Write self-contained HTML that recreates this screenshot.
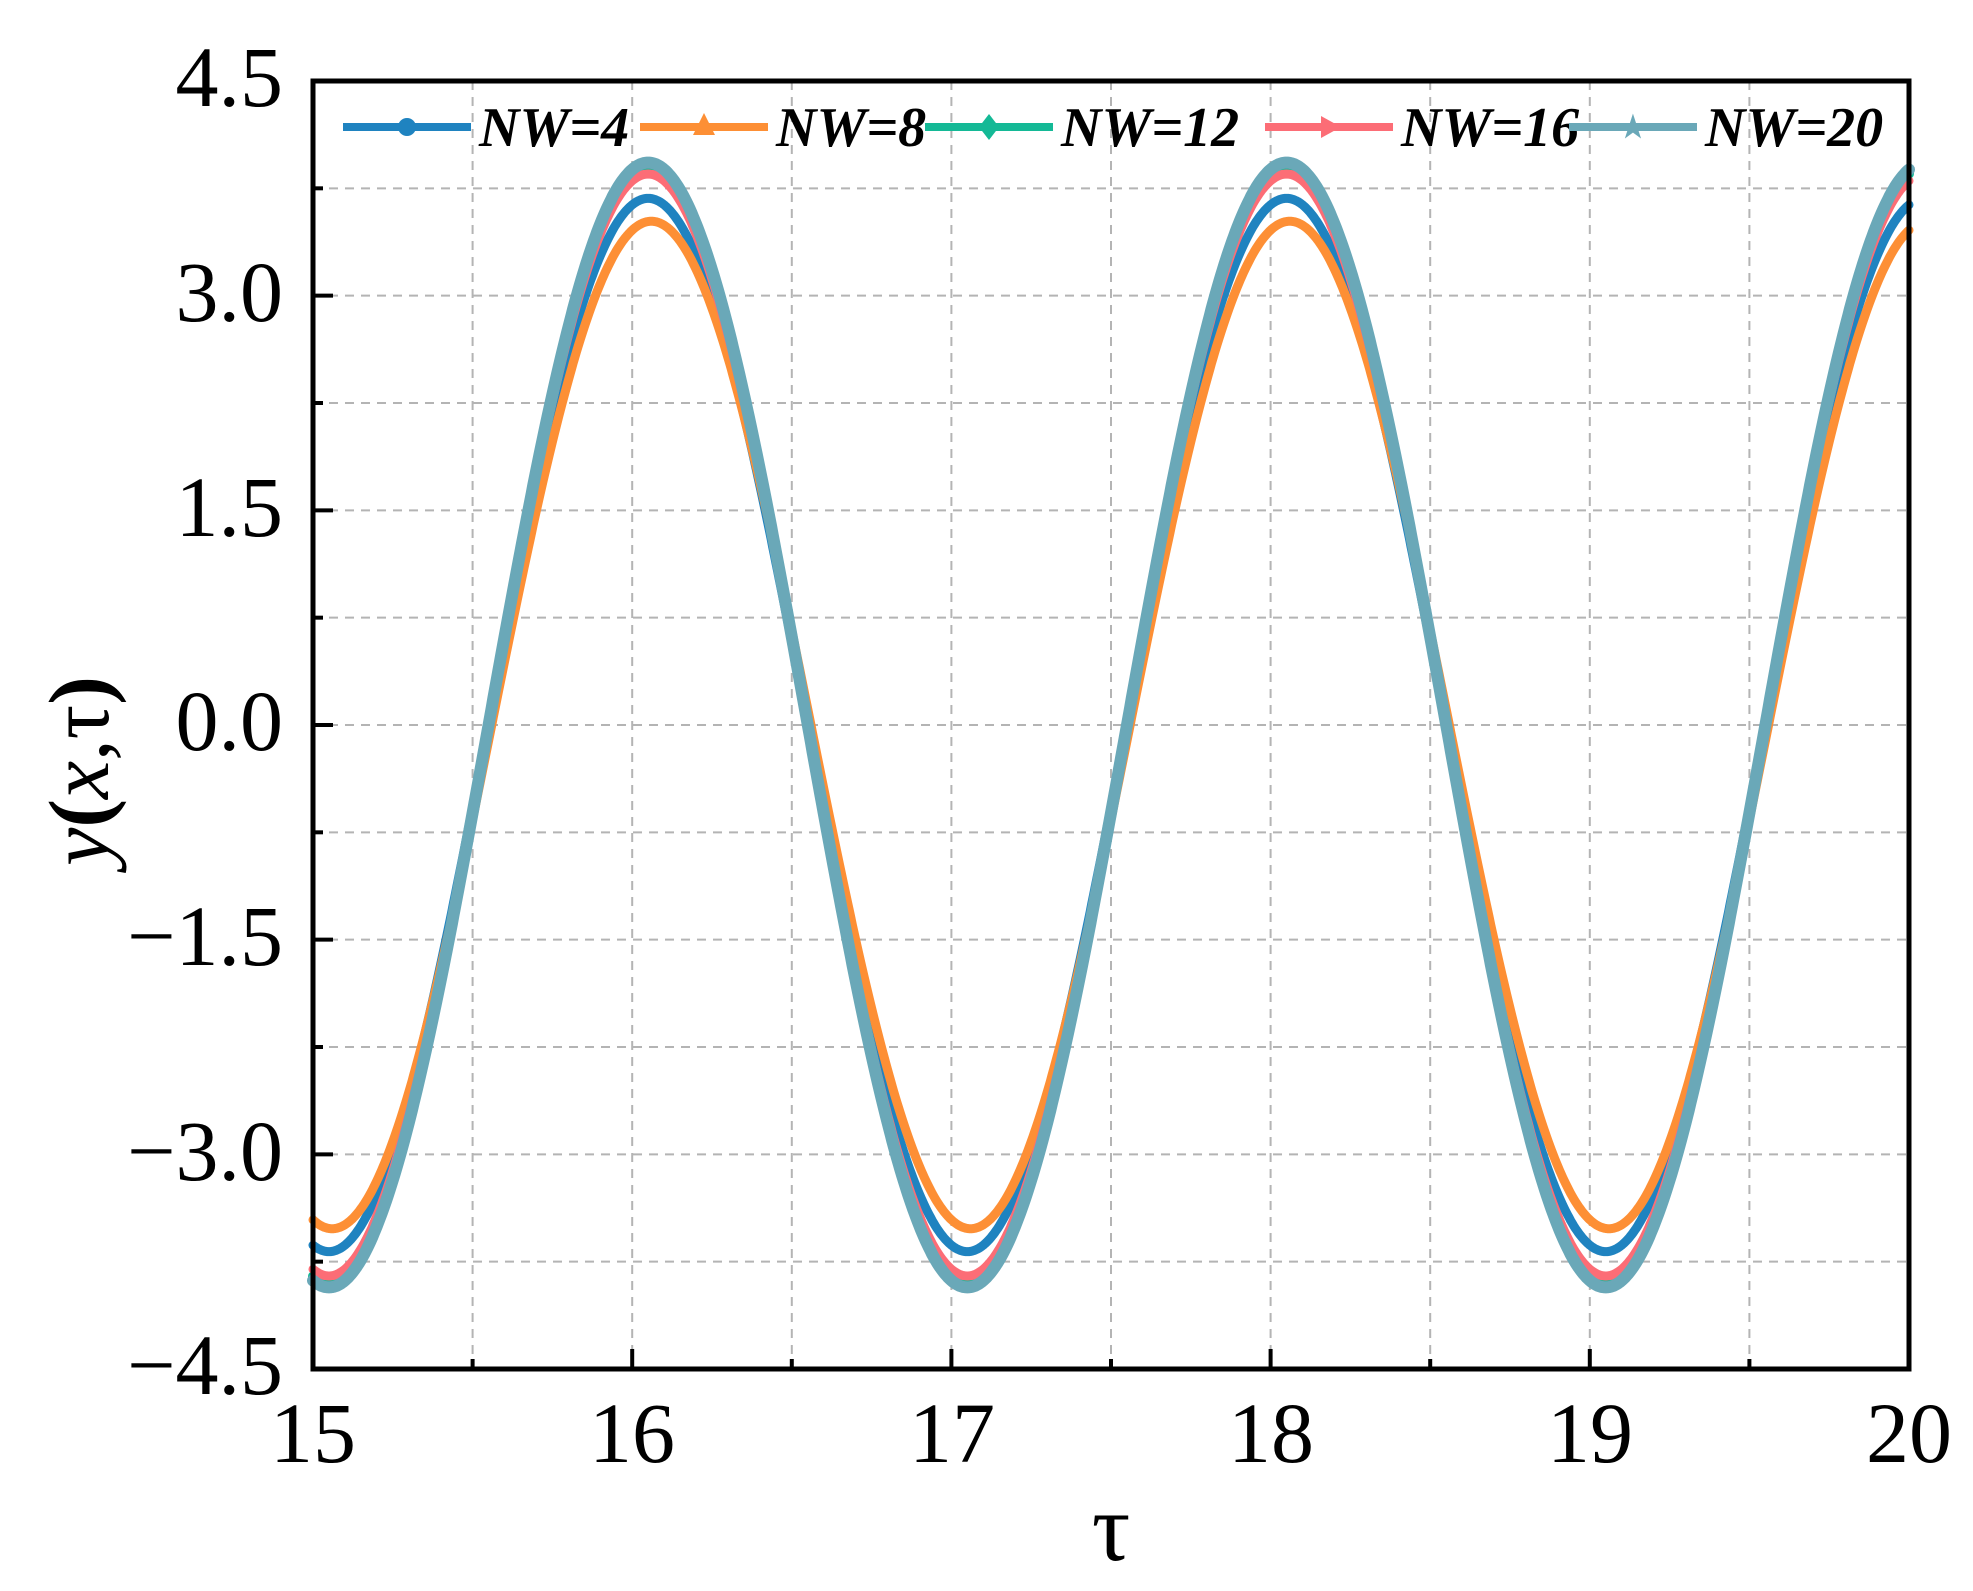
<!DOCTYPE html>
<html><head><meta charset="utf-8"><style>html,body{margin:0;padding:0;background:#fff}svg{display:block}</style></head>
<body>
<svg id="s" width="1973" height="1591" viewBox="0 0 1973 1591" xmlns="http://www.w3.org/2000/svg" style="font-family:'Liberation Serif','Times New Roman',serif">
<rect width="1973" height="1591" fill="#fff"/>
<g id="grid" stroke="#b4b4b4" stroke-width="2" stroke-dasharray="9,7" fill="none"></g>
<g id="curves" fill="none" stroke-linejoin="round" stroke-linecap="round"></g>
<g id="ticks" stroke="#000" stroke-width="4"></g>
<rect x="313" y="81" width="1596" height="1288" fill="none" stroke="#000" stroke-width="5"/>
<g font-size="86" fill="#000" text-anchor="end">
<text x="283" y="106">4.5</text>
<text x="283" y="321">3.0</text>
<text x="283" y="536">1.5</text>
<text x="283" y="750">0.0</text>
<text x="283" y="965">−1.5</text>
<text x="283" y="1180">−3.0</text>
<text x="283" y="1394">−4.5</text>
</g>
<g font-size="86" fill="#000" text-anchor="middle">
<text x="313" y="1462">15</text>
<text x="632" y="1462">16</text>
<text x="952" y="1462">17</text>
<text x="1271" y="1462">18</text>
<text x="1590" y="1462">19</text>
<text x="1909" y="1462">20</text>
<text x="1111" y="1560" font-size="96">τ</text>
</g>
<text transform="translate(108,771) rotate(-90)" text-anchor="middle" font-size="86" fill="#000"><tspan font-style="italic">y</tspan><tspan font-weight="bold">(</tspan><tspan font-style="italic">x</tspan>,τ<tspan font-weight="bold">)</tspan></text>
<g id="legend" font-size="56" font-weight="bold" font-style="italic" fill="#000"></g>
</svg>
<script>
const NS="http://www.w3.org/2000/svg";
const X=t=>313+(t-15)*319.2, Y=v=>81+(4.5-v)*143.11;
function el(p,tag,a){const e=document.createElementNS(NS,tag);for(const k in a)e.setAttribute(k,a[k]);p.appendChild(e);return e;}
const g=document.getElementById('grid');
for(let i=1;i<10;i++){el(g,'line',{x1:X(15+i*0.5),x2:X(15+i*0.5),y1:81,y2:1369});}
for(let i=1;i<12;i++){el(g,'line',{y1:Y(4.5-i*0.75),y2:Y(4.5-i*0.75),x1:313,x2:1909});}
const tk=document.getElementById('ticks');
for(let i=1;i<10;i++){const len=i%2==0?20:10;el(tk,'line',{x1:X(15+i*0.5),x2:X(15+i*0.5),y1:1369,y2:1369-len});}
for(let i=1;i<12;i++){const len=i%2==0?20:10;el(tk,'line',{x1:313,x2:313+len,y1:Y(4.5-i*0.75),y2:Y(4.5-i*0.75)});}
const series=[
 {c:"#1f83c0",A:3.68,p:15.55,w:9,lab:"NW=4",lx:343,m:"c"},
 {c:"#fd8f35",A:3.52,p:15.56,w:9,lab:"NW=8",lx:640,m:"t"},
 {c:"#14b996",A:3.90,p:15.55,w:10,lab:"NW=12",lx:925,m:"d"},
 {c:"#fc6d76",A:3.85,p:15.55,w:9,lab:"NW=16",lx:1265,m:"r"},
 {c:"#6aa8b8",A:3.93,p:15.55,w:12,lab:"NW=20",lx:1569,m:"s"}];
const cg=document.getElementById('curves');
const lg=document.getElementById('legend');
for(const s of series){
 let d="";for(let i=0;i<=1000;i++){const t=15+i*0.005;const v=s.A*Math.sin(Math.PI*(t-s.p));d+=(i?"L":"M")+X(t).toFixed(1)+","+Y(v).toFixed(1);}
 el(cg,'path',{d:d,stroke:s.c,"stroke-width":s.w});
 el(lg,'line',{x1:s.lx,x2:s.lx+128,y1:127,y2:127,stroke:s.c,"stroke-width":8});
 const mx=s.lx+64,my=127;
 if(s.m=="c")el(lg,'circle',{cx:mx,cy:my,r:9,fill:s.c});
 else if(s.m=="t")el(lg,'polygon',{points:`${mx},${my-14} ${mx-11},${my+8} ${mx+11},${my+8}`,fill:s.c});
 else if(s.m=="d")el(lg,'polygon',{points:`${mx},${my-13} ${mx-10},${my} ${mx},${my+13} ${mx+10},${my}`,fill:s.c});
 else if(s.m=="r")el(lg,'polygon',{points:`${mx-8},${my-11} ${mx+12},${my} ${mx-8},${my+11}`,fill:s.c});
 else el(lg,'text',{x:mx,y:my+10,"font-size":30,"font-style":"normal","text-anchor":"middle",fill:s.c}).textContent="★";
 el(lg,'text',{x:s.lx+136,y:146}).textContent=s.lab;
}
</script>
</body></html>
